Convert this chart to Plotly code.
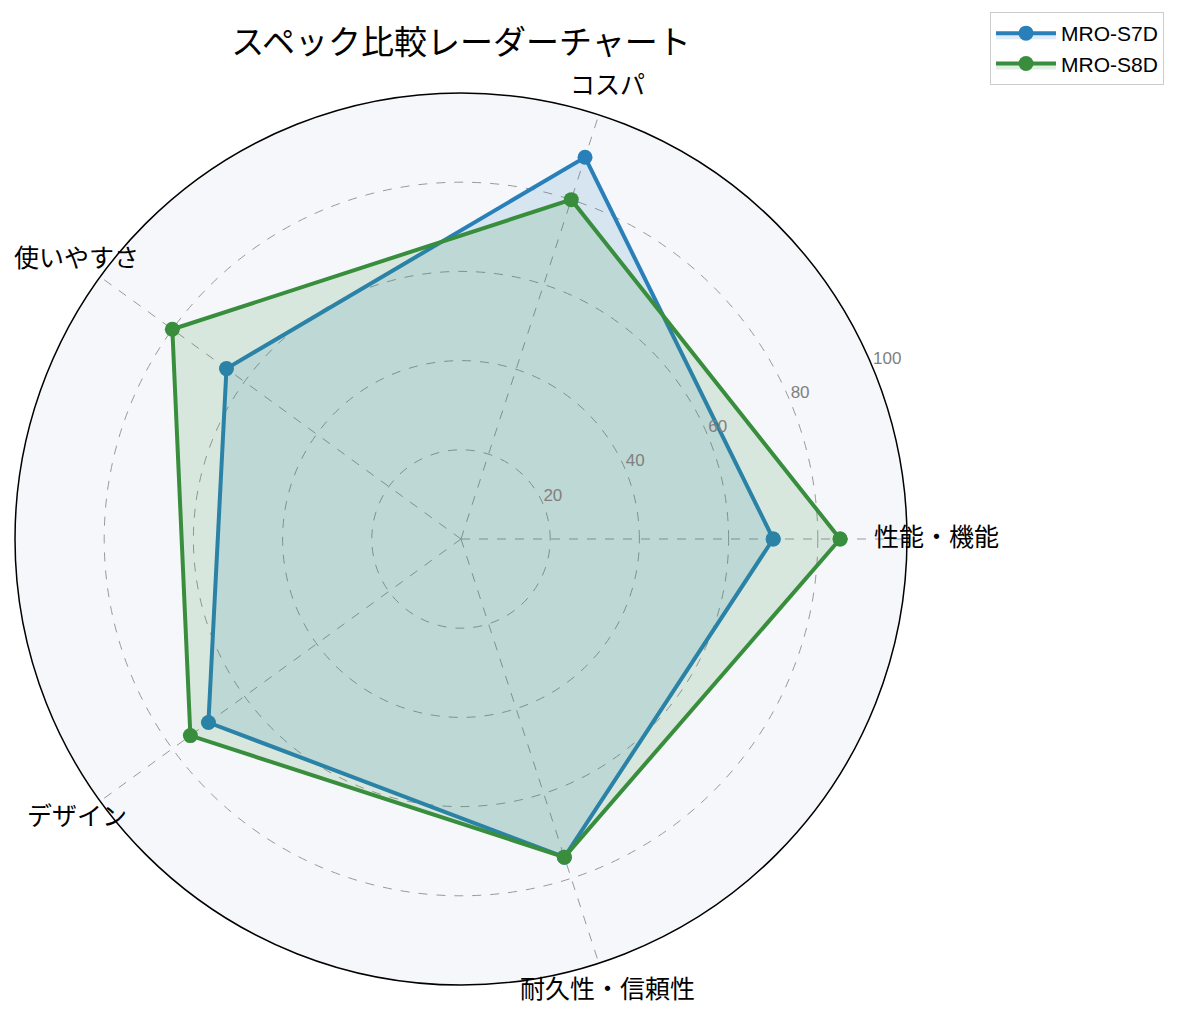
import math
import plotly.graph_objects as go

categories = ["性能・機能", "コスパ", "使いやすさ", "デザイン", "耐久性・信頼性"]
s7d_values = [70, 90, 65, 70, 75]
s8d_values = [85, 80, 80, 75, 75]
series_names = ["MRO-S7D", "MRO-S8D"]
radial_ticks = [20, 40, 60, 80, 100]

FONT = "Noto Sans CJK JP"
LATIN = "Liberation Sans, Noto Sans CJK JP"

W, H = 1179, 1017
LCX, LCY = 453, 527             # label placement centre in pixels
LABEL_R = 475                   # category label radius in pixels

step = 360 / len(categories)
angles = [i * step for i in range(len(categories))]

def closed(v):
    return list(v) + [v[0]]

fig = go.Figure()
fig.add_trace(go.Scatterpolar(
    r=closed(s7d_values), theta=closed(angles), name=series_names[0],
    mode="lines+markers", fill="toself",
    fillcolor="rgba(41,128,185,0.15)",
    line=dict(color="#2980b9", width=4),
    marker=dict(size=15, color="#2980b9"),
))
fig.add_trace(go.Scatterpolar(
    r=closed(s8d_values), theta=closed(angles), name=series_names[1],
    mode="lines+markers", fill="toself",
    fillcolor="rgba(56,142,60,0.15)",
    line=dict(color="#388e3c", width=4),
    marker=dict(size=15, color="#388e3c"),
))
# radial tick labels at 22.5 degrees
fig.add_trace(go.Scatterpolar(
    r=radial_ticks, theta=[22.5] * len(radial_ticks),
    text=[str(t) for t in radial_ticks],
    mode="text", textposition="top right", cliponaxis=False,
    textfont=dict(family=LATIN, size=17, color="#808080"),
    showlegend=False, hoverinfo="skip",
))

annotations = []
for cat, ang in zip(categories, angles):
    a = math.radians(ang)
    px = LCX + LABEL_R * math.cos(a)
    py = LCY - LABEL_R * math.sin(a)
    annotations.append(dict(
        text=cat, x=px / W, y=1 - py / H, xref="paper", yref="paper",
        xanchor="center", yanchor="middle", showarrow=False,
        font=dict(family=FONT, size=25, color="black"),
    ))

fig.update_layout(
    width=W, height=H,
    margin=dict(l=0, r=0, t=0, b=0),
    paper_bgcolor="white",
    font=dict(family=FONT, color="black"),
    title=dict(text="スペック比較レーダーチャート", x=453/W, y=1-34/H,
               xanchor="center", yanchor="middle",
               font=dict(family=FONT, size=33, color="black")),
    annotations=annotations,
    polar=dict(
        domain=dict(x=[7/W, 899/W], y=[1-977/H, 1-85/H]),
        bgcolor="#f5f7fa",
        angularaxis=dict(
            rotation=0, direction="counterclockwise",
            tickmode="array", tickvals=angles, ticktext=categories,
            showticklabels=False,
            showline=True, linecolor="black", linewidth=1.5,
            gridcolor="#999999", griddash="dash", gridwidth=0.8,
            ticks="",
        ),
        radialaxis=dict(
            range=[0, 100], tickvals=radial_ticks,
            showticklabels=False,
            showline=False, ticks="",
            gridcolor="#999999", griddash="dash", gridwidth=0.8,
        ),
    ),
    legend=dict(
        x=1156/W, y=1-4/H, xanchor="right", yanchor="top",
        bordercolor="#cccccc", borderwidth=1, bgcolor="white",
        itemwidth=60,
        font=dict(family=LATIN, size=21, color="black"),
    ),
)

fig.write_html("out.html")
